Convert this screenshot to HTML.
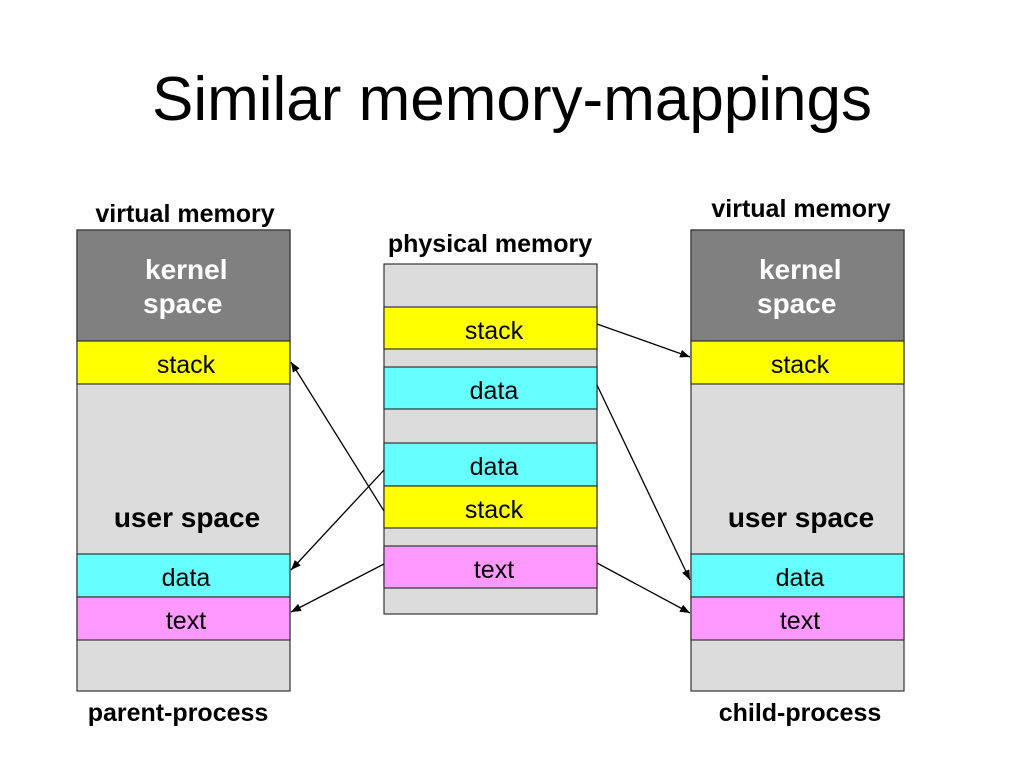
<!DOCTYPE html>
<html><head><style>
body{margin:0;background:#fff;}
svg text{font-family:"Liberation Sans",sans-serif;}
</style></head><body>
<svg width="1024" height="768" xmlns="http://www.w3.org/2000/svg">
<defs><marker id="a" markerWidth="10" markerHeight="8" refX="10" refY="4" orient="auto" markerUnits="userSpaceOnUse"><path d="M0,0 L10,4 L0,8 z" fill="#000"/></marker></defs>
<text x="512" y="120" font-size="62" text-anchor="middle" fill="#000">Similar memory-mappings</text>
<g font-weight="bold" font-size="25" fill="#000">
<text x="185" y="222" text-anchor="middle">virtual memory</text>
<text x="801" y="217" text-anchor="middle">virtual memory</text>
<text x="490" y="252" text-anchor="middle">physical memory</text>
<text x="178" y="721" text-anchor="middle">parent-process</text>
<text x="800" y="721" text-anchor="middle">child-process</text>
</g>
<g stroke="#333" stroke-width="1.2">
<rect x="77" y="230" width="213" height="461" fill="#dcdcdc"/>
<rect x="77" y="230" width="213" height="111" fill="#808080"/>
<rect x="77" y="341" width="213" height="43" fill="#ffff00"/>
<rect x="77" y="554" width="213" height="43" fill="#66ffff"/>
<rect x="77" y="597" width="213" height="43" fill="#ff99ff"/>
<rect x="691" y="230" width="213" height="461" fill="#dcdcdc"/>
<rect x="691" y="230" width="213" height="111" fill="#808080"/>
<rect x="691" y="341" width="213" height="43" fill="#ffff00"/>
<rect x="691" y="554" width="213" height="43" fill="#66ffff"/>
<rect x="691" y="597" width="213" height="43" fill="#ff99ff"/>
<rect x="384" y="264" width="213" height="350" fill="#dcdcdc"/>
<rect x="384" y="307" width="213" height="42" fill="#ffff00"/>
<rect x="384" y="367" width="213" height="42" fill="#66ffff"/>
<rect x="384" y="443" width="213" height="43" fill="#66ffff"/>
<rect x="384" y="486" width="213" height="42" fill="#ffff00"/>
<rect x="384" y="546" width="213" height="42" fill="#ff99ff"/>
</g>
<g font-size="25" fill="#000" text-anchor="middle">
<text x="186" y="373">stack</text><text x="186" y="586">data</text><text x="186" y="629">text</text>
<text x="800" y="373">stack</text><text x="800" y="586">data</text><text x="800" y="629">text</text>
<text x="494" y="339">stack</text><text x="494" y="399">data</text><text x="494" y="475">data</text><text x="494" y="518">stack</text><text x="494" y="578">text</text>
</g>
<g font-size="28" font-weight="bold" fill="#fff">
<text x="145" y="279">kernel</text><text x="143" y="313">space</text>
<text x="759" y="279">kernel</text><text x="757" y="313">space</text>
</g>
<g font-size="28" font-weight="bold" fill="#000" text-anchor="middle">
<text x="187" y="527">user space</text><text x="801" y="527">user space</text>
</g>
<g stroke="#000" stroke-width="1.3" marker-end="url(#a)">
<line x1="597" y1="324" x2="690" y2="357"/>
<line x1="597" y1="385" x2="690" y2="580"/>
<line x1="597" y1="563" x2="690" y2="613"/>
<line x1="384" y1="511" x2="291" y2="362"/>
<line x1="384" y1="470" x2="291" y2="570"/>
<line x1="384" y1="564" x2="291" y2="612"/>
</g>
</svg>
</body></html>
